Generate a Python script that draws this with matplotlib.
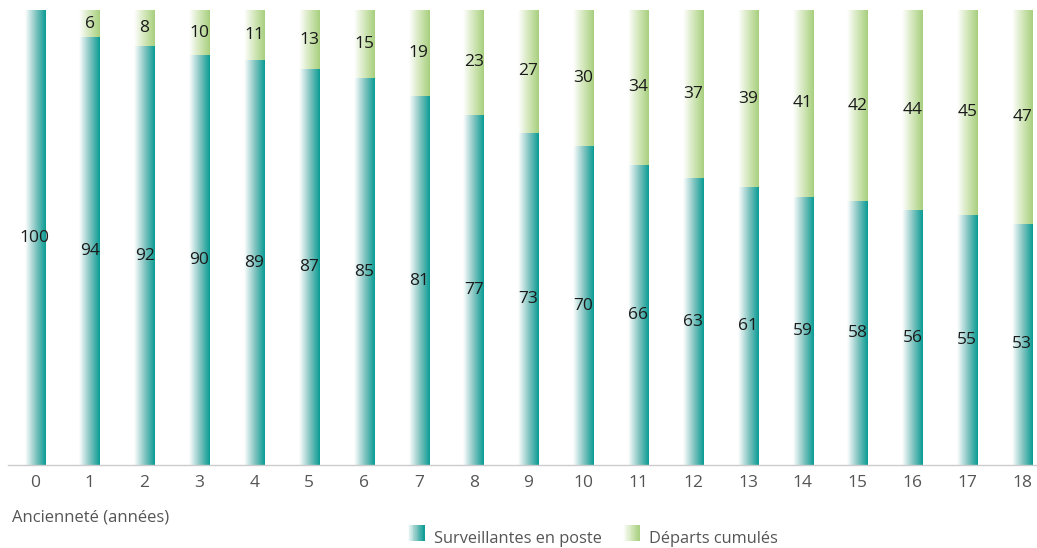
import numpy as np
import matplotlib.pyplot as plt
from matplotlib.colors import LinearSegmentedColormap
from matplotlib.legend_handler import HandlerBase
from matplotlib.patches import Rectangle

plt.rcParams['font.family'] = ['Open Sans', 'DejaVu Sans']

annees = list(range(19))
en_poste = [100, 94, 92, 90, 89, 87, 85, 81, 77, 73, 70, 66, 63, 61, 59, 58, 56, 55, 53]
departs = [0, 6, 8, 10, 11, 13, 15, 19, 23, 27, 30, 34, 37, 39, 41, 42, 44, 45, 47]

teal = '#0a9c94'
green = '#a8d07f'
cmap_teal = LinearSegmentedColormap.from_list('teal', ['#ffffff', '#88c7c3', teal])
cmap_green = LinearSegmentedColormap.from_list('green', ['#ffffff', '#d3e7bb', green])
grad = np.linspace(0, 1, 64).reshape(1, -1)


def fill_gradient(ax, bars, cmap, z, overlap=0.0):
    # paint a left->right gradient over each bar
    for b in bars:
        x0, y0 = b.get_x(), b.get_y()
        w, h = b.get_width(), b.get_height()
        if h <= 0:
            continue
        top = min(y0 + h + overlap, 100)
        ax.imshow(grad, cmap=cmap, aspect='auto', extent=(x0, x0 + w, y0, top),
                  interpolation='bilinear', zorder=z)
        b.set_facecolor('none')


class GradHandler(HandlerBase):
    def __init__(self, cmap):
        super().__init__()
        self.cmap = cmap

    def create_artists(self, legend, orig, xd, yd, width, height, fontsize, trans):
        n = 20
        arts = []
        for i in range(n):
            r = Rectangle((xd + width * i / n, yd), width / n + 0.3, height,
                          facecolor=self.cmap((i + 0.5) / n), edgecolor='none',
                          transform=trans)
            arts.append(r)
        return arts


fig = plt.figure(figsize=(10.37, 5.48), dpi=100)
ax = fig.add_axes([8 / 1037, 83 / 548, 1029 / 1037, 455 / 548])

w = 0.375
b1 = ax.bar(annees, en_poste, width=w, linewidth=0, zorder=2)
b2 = ax.bar(annees, departs, width=w, bottom=en_poste, linewidth=0, zorder=2)
fill_gradient(ax, b1, cmap_teal, 2.0, overlap=0.4)
fill_gradient(ax, b2, cmap_green, 2.1)

for x, p, d in zip(annees, en_poste, departs):
    ax.text(x, p / 2, str(p), ha='center', va='center', fontsize=12.5, color='#1a1a1a', zorder=3)
    if d > 0:
        ax.text(x, p + d / 2, str(d), ha='center', va='center', fontsize=12.5,
                color='#1a1a1a', zorder=3)

ax.set_xlim(-0.49, 18.27)
ax.set_ylim(0, 100)
ax.set_yticks([])
ax.set_xticks(annees)
ax.set_xticklabels([str(a) for a in annees], fontsize=12.5, color='#555555')
ax.tick_params(axis='x', length=0, pad=7)
for s in ['top', 'right', 'left']:
    ax.spines[s].set_visible(False)
ax.spines['bottom'].set_color('#cccccc')
ax.spines['bottom'].set_linewidth(1)

fig.text(12 / 1037, 1 - 518 / 548, 'Ancienneté (années)', fontsize=12, color='#555555',
         va='center', ha='left')

h1 = Rectangle((0, 0), 1, 1)
h2 = Rectangle((0, 0), 1, 1)
fig.legend([h1, h2], ['Surveillantes en poste', 'Départs cumulés'],
           handler_map={h1: GradHandler(cmap_teal), h2: GradHandler(cmap_green)},
           loc='center', bbox_to_anchor=(593 / 1037, 1 - 538 / 548), ncol=2, frameon=False,
           fontsize=11.8, labelcolor='#555555', handlelength=1.0, handleheight=1.05,
           handletextpad=0.6, columnspacing=1.3)

fig.savefig('out.png', dpi=100)
